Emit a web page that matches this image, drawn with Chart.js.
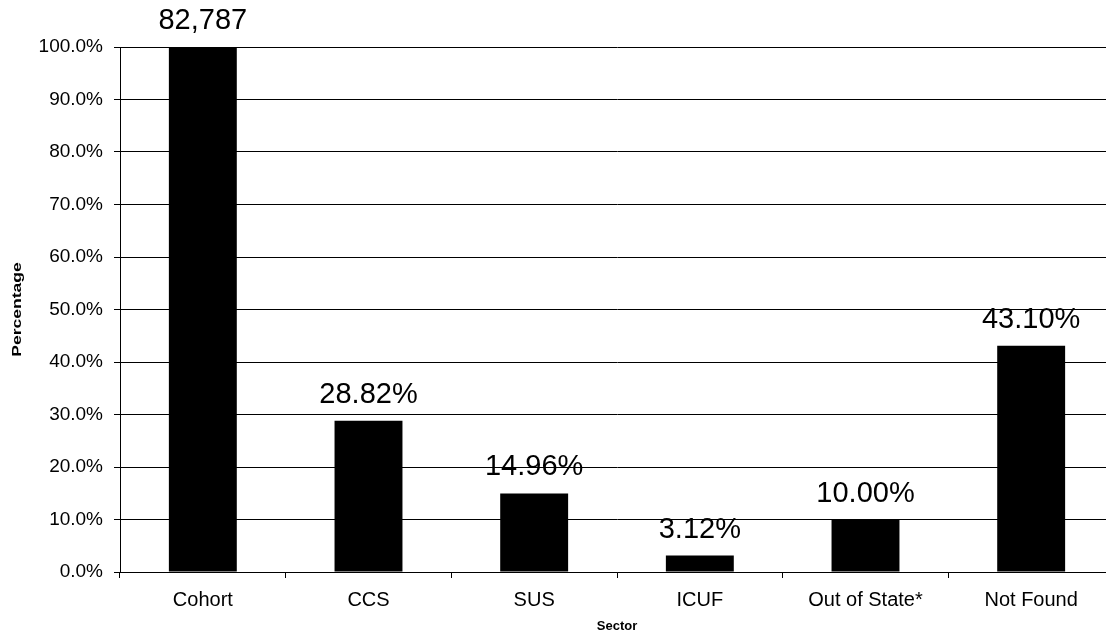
<!DOCTYPE html>
<html>
<head>
<meta charset="utf-8">
<script src="https://cdn.jsdelivr.net/npm/chart.js@4/dist/chart.umd.min.js"></script>
<style>
  html, body { margin: 0; padding: 0; background: #fff; overflow: hidden; }
  #wrap { width: 1114px; height: 641px; position: relative; }
</style>
</head>
<body>
<div id="wrap"><canvas id="sector-chart"></canvas></div>
<script>
// Sector breakdown of the cohort
const sectors = ['Cohort', 'CCS', 'SUS', 'ICUF', 'Out of State*', 'Not Found'];
const percentages = [100, 28.82, 14.96, 3.12, 10.00, 43.10];
const barLabels = ['82,787', '28.82%', '14.96%', '3.12%', '10.00%', '43.10%'];
const yTitle = 'Percentage';

const FONT = "'Liberation Sans', Arial, sans-serif";

// draw the text above each bar
const barLabelPlugin = {
    id: 'barLabels',
    afterDatasetsDraw(chart) {
        const ctx = chart.ctx;
        const meta = chart.getDatasetMeta(0);
        ctx.save();
        ctx.font = `29px ${FONT}`;
        ctx.fillStyle = '#000';
        ctx.textAlign = 'center';
        ctx.textBaseline = 'alphabetic';
        meta.data.forEach((bar, i) => {
            ctx.fillText(barLabels[i], bar.x, bar.y - 18);
        });
        ctx.restore();
    }
};

// rotated, slightly stretched y axis title
const yTitlePlugin = {
    id: 'yTitle',
    afterDraw(chart) {
        const ctx = chart.ctx;
        const area = chart.chartArea;
        ctx.save();
        ctx.translate(17, (area.top + area.bottom) / 2);
        ctx.rotate(-Math.PI / 2);
        ctx.scale(1.35, 1);
        ctx.font = `bold 13px ${FONT}`;
        ctx.fillStyle = '#000';
        ctx.textAlign = 'center';
        ctx.textBaseline = 'middle';
        ctx.fillText(yTitle, 0, 0);
        ctx.restore();
    }
};

const ctx = document.getElementById('sector-chart').getContext('2d');
new Chart(ctx, {
    type: 'bar',
    data: {
        labels: sectors,
        datasets: [{
            data: percentages,
            backgroundColor: '#000',
            borderWidth: 0,
            barPercentage: 0.41,
            categoryPercentage: 1
        }]
    },
    options: {
        responsive: true,
        maintainAspectRatio: false,
        animation: false,
        layout: { padding: { top: 47, left: 0, right: 0, bottom: 0 } },
        plugins: {
            legend: { display: false },
            tooltip: { enabled: false }
        },
        scales: {
            x: {
                offset: true,
                grid: {
                    offset: true,
                    drawOnChartArea: false,
                    color: '#000',
                    tickLength: 6
                },
                border: { color: '#000', width: 1 },
                ticks: {
                    color: '#000',
                    padding: 10,
                    maxRotation: 0,
                    font: { family: FONT, size: 20 }
                },
                title: {
                    display: true,
                    text: 'Sector',
                    color: '#000',
                    padding: { top: 0, bottom: 7 },
                    font: { family: FONT, size: 13, weight: 'bold' }
                },
                afterFit: (scale) => { scale.height = 69; }
            },
            y: {
                min: 0,
                max: 100,
                ticks: {
                    stepSize: 10,
                    color: '#000',
                    padding: 11,
                    font: { family: FONT, size: 19 },
                    callback: (v) => v.toFixed(1) + '%'
                },
                grid: {
                    color: '#000',
                    tickLength: 6
                },
                border: { color: '#000', width: 1 },
                afterFit: (scale) => { scale.width = 120; }
            }
        }
    },
    plugins: [barLabelPlugin, yTitlePlugin]
});
</script>
</body>
</html>
